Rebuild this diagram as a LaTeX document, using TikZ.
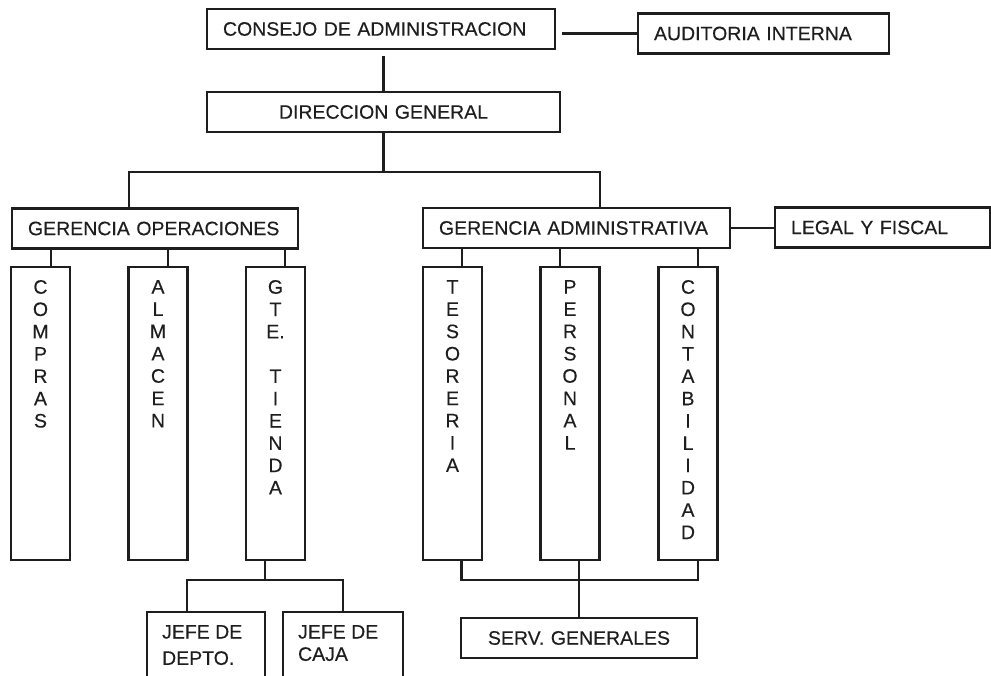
\documentclass[tikz,border=0pt]{standalone}
\usepackage{fontspec}
\setmainfont[FakeBold=0.3]{Liberation Sans}

\newcommand{\chartfont}{\fontsize{19.5}{22.3}\selectfont}
\definecolor{inkgray}{HTML}{1E1E1E}

\tikzset{
  every node/.style={font=\chartfont, text=inkgray},
  unitbox/.style={draw=inkgray, line width=2.2pt, minimum height=40pt,
    inner xsep=16pt, inner ysep=0pt, align=left},
  column/.style={draw=inkgray, line width=2.2pt, minimum width=59pt,
    minimum height=293pt, inner sep=0pt},
  coltext/.style={anchor=north, inner sep=0pt, yshift=-14pt, align=center},
  jefebox/.style={draw=inkgray, line width=2.2pt, minimum height=80pt, inner sep=0pt},
  jefetext/.style={anchor=north west, inner sep=0pt, xshift=16pt, yshift=-14pt, align=left},
  link/.style={draw=inkgray, line width=2.2pt},
}

\begin{document}
\begin{tikzpicture}[x=1pt, y=-1pt]
  \path[use as bounding box, clip] (0,0) rectangle (991,675);

  % upper levels
  \node[unitbox, text width=316pt] (consejo) at (381,29) {CONSEJO DE ADMINISTRACION};
  \node[unitbox, text width=219pt] (auditoria) at (763.5,33.5) {AUDITORIA INTERNA};
  \node[unitbox, text width=321pt, align=center] (direccion) at (383.5,112) {DIRECCION GENERAL};
  \node[unitbox, text width=254pt] (gop) at (155,228.5) {GERENCIA OPERACIONES};
  \node[unitbox, text width=275pt] (gad) at (576.5,228) {GERENCIA ADMINISTRATIVA};
  \node[unitbox, text width=183pt] (legal) at (882.5,227.5) {LEGAL Y FISCAL};

  % departments
  \node[column, label={[coltext]north:{C\\O\\M\\P\\R\\A\\S}}] (compras) at (40.5,413.5) {};
  \node[column, label={[coltext]north:{A\\L\\M\\A\\C\\E\\N}}] (almacen) at (158,413.5) {};
  \node[column, label={[coltext]north:{G\\T\\E.\\[22.3pt]T\\I\\E\\N\\D\\A}}] (tienda) at (275.5,413.5) {};
  \node[column, label={[coltext]north:{T\\E\\S\\O\\R\\E\\R\\I\\A}}] (tesoreria) at (452.5,413.5) {};
  \node[column, label={[coltext]north:{P\\E\\R\\S\\O\\N\\A\\L}}] (personal) at (570,413.5) {};
  \node[column, label={[coltext]north:{C\\O\\N\\T\\A\\B\\I\\L\\I\\D\\A\\D}}] (contabilidad) at (688,413.5) {};

  % lower level
  \node[jefebox, minimum width=118pt, label={[jefetext]north west:{JEFE DE\\[4pt]DEPTO.}}] (depto) at (206,652) {};
  \node[jefebox, minimum width=120pt, label={[jefetext]north west:{JEFE DE\\CAJA}}] (caja) at (343,652) {};
  \node[unitbox, text width=204pt, align=center] (serv) at (579,638) {SERV. GENERALES};

  % connectors
  \draw[link, shorten <=6pt] (consejo.south -| direccion.north) -- (direccion.north);
  \draw[link, shorten <=6pt] (consejo.east |- auditoria.west) -- (auditoria.west);
  \draw[link] (direccion.south) -- ++(0,39) coordinate (bus);
  \draw[link] ([xshift=-26pt]gop.north) |- (bus) -| ([xshift=23.5pt]gad.north);
  \draw[link] (gad.east) -- (gad.east -| legal.west);
  \foreach \col/\dx in {compras/10.5, almacen/10, tienda/9.5}
    \draw[link] ([xshift=\dx pt]\col.north) -- ([xshift=\dx pt]\col.north |- gop.south);
  \foreach \col/\dx in {tesoreria/9.5, personal/-10, contabilidad/10}
    \draw[link] ([xshift=\dx pt]\col.north) -- ([xshift=\dx pt]\col.north |- gad.south);
  \draw[link] ([xshift=-10.5pt]tienda.south) -- ++(0,19) coordinate (tbus);
  \draw[link] ([xshift=-19pt]depto.north) |- (tbus) -| (caja.north);
  \draw[link] ([xshift=9pt]tesoreria.south) |- ([yshift=-19pt]personal.south)
    -| ([xshift=10pt]contabilidad.south);
  \draw[link] (serv.north) -- (serv.north |- personal.south);
\end{tikzpicture}
\end{document}
